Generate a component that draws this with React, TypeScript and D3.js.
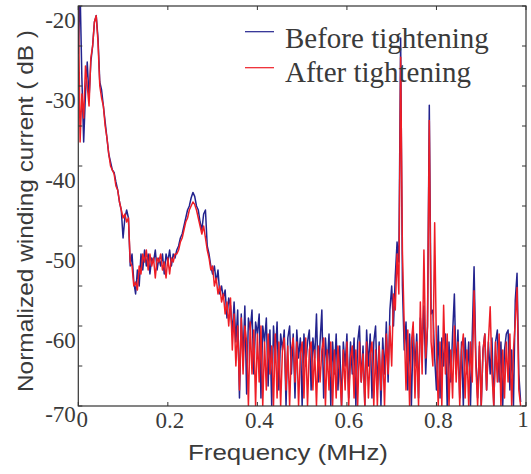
import React from "react";
import * as d3 from "d3";

// Sample spacing of the spectrum (MHz)
const FREQ_STEP = 0.004;

// Normalized winding current (dB), before tightening
const beforeValues: number[] = [
  -26, -18, -29, -37, -31, -27, -31.5, -27, -25, -22,
  -21.2, -24, -29.5, -30.5, -32.5, -34.5, -36.5, -38.5, -39.5, -40.5,
  -40.8, -42, -43, -44.5, -45.5, -49, -46.5, -45.5, -46.5, -52.5,
  -51, -54.5, -56, -53, -55, -51, -53, -50.5, -52.5, -51,
  -53.5, -51.5, -52, -50.5, -53, -51.5, -52.5, -51, -53.5, -51,
  -52, -50.5, -52.5, -51, -51.5, -50.5, -50, -49, -48.5, -47.5,
  -46.5, -45.5, -45, -44, -43.3, -43.8, -45, -45.5, -47, -48,
  -46, -45.5, -50, -51, -52.5, -53.5, -52.5, -54.5, -53, -56,
  -55, -56.5, -55.5, -59, -56.5, -57.5, -61, -57, -62, -58,
  -69, -58.5, -64, -57.5, -68.5, -59, -60.5, -58, -66, -59.5,
  -61, -58.5, -69, -60, -62, -59, -67.5, -60.5, -70, -60,
  -64, -59.5, -68, -61, -63, -60.5, -70, -61.5, -60, -66,
  -61, -69, -60.5, -64, -61.5, -70, -61, -65, -62, -60.5,
  -68, -61.5, -64, -58.5, -67, -62, -58, -69, -61.5, -65,
  -61, -70, -62, -66, -61, -68, -62.5, -70, -62, -65,
  -61, -69, -62, -66, -61.5, -70, -62, -60, -67, -62.5,
  -70, -60.5, -65, -61, -69, -62, -60, -68, -62, -70,
  -61.5, -66, -59.5, -67, -58, -55, -60, -53.8, -49.5, -52,
  -24, -55, -63, -59.5, -68, -61, -70, -60.5, -65, -61,
  -69, -59, -63, -57.5, -66, -60, -32.4, -58.5, -58, -64,
  -68, -60, -69, -61.5, -65, -61, -70, -62, -67, -61,
  -56, -66, -60.5, -69, -62, -70, -61.5, -66, -62, -70,
  -61, -52.6, -64, -69, -62.5, -70, -63, -61, -68, -62,
  -66, -61.5, -70, -62, -60.5, -67, -62, -70, -63, -61,
  -60.5, -68, -63, -70, -56.8, -53.4, -66, -69.5,
];

// Normalized winding current (dB), after tightening
const afterValues: number[] = [
  -19, -37, -31, -34, -27.5, -30, -32.5, -26.5, -25, -22,
  -21.2, -24.5, -30, -31.5, -32.5, -35, -36.5, -38.5, -40, -40.5,
  -41, -42.5, -43, -44.5, -45.5, -46.5, -46, -47, -46.5, -52,
  -52.5, -55, -54.5, -55.5, -52.5, -53.5, -51, -52, -50.5, -53,
  -51, -52.5, -51.5, -54, -51.5, -52, -51, -53, -52, -54,
  -51.5, -53.5, -51.5, -52, -51, -51, -50.5, -49.5, -49, -48,
  -47, -46.5, -45.5, -45, -44.5, -44.8, -45.5, -46.5, -47.5, -48.5,
  -47.5, -49, -50.5, -51.5, -53, -52.5, -55, -54, -56, -55,
  -57, -56, -58.5, -57, -60, -56.5, -63, -58.5, -65, -60,
  -68, -59, -66, -60, -62, -70, -59.5, -66, -60.5, -70,
  -61, -67, -60, -70, -62, -68, -61, -66, -62.5, -70,
  -61, -69, -62, -70, -63, -61.5, -68, -62.5, -70, -63,
  -61.5, -67, -62, -70, -63.5, -62, -69, -61.5, -70, -63,
  -62, -68, -63, -70, -62.5, -67, -63, -61.5, -70, -63,
  -68, -62, -70, -63, -69, -62.5, -66, -70, -63, -68,
  -62, -70, -64, -62.5, -69, -63, -70, -62, -67, -63.5,
  -70, -62, -69, -63.5, -62, -70, -63, -70, -62.5, -68,
  -63, -70, -61, -66, -60, -65, -56, -58, -51, -56,
  -26.4, -50.7, -60, -68, -60.5, -70, -62, -59.5, -69, -62,
  -70, -57, -66, -50.5, -64, -60, -34.3, -62, -65, -47.1,
  -63, -70, -62, -70, -57.4, -66, -61, -70, -63, -69,
  -60, -67, -62, -70, -63, -61, -69, -63, -70, -62,
  -67, -55.6, -65, -70, -62, -70, -63, -61, -68, -62,
  -57.6, -66, -70, -62, -67, -61, -70, -63, -69, -62,
  -67, -61, -70, -63, -59.5, -55.2, -68, -70,
];

const xTicks = [0, 0.2, 0.4, 0.6, 0.8, 1];
const xTickLabels = ["0", "0.2", "0.4", "0.6", "0.8", "1"];
const yTicks = [-20, -25, -30, -35, -40, -45, -50, -55, -60, -65, -70];
const yTickLabels = [-20, -30, -40, -50, -60, -70];

const legendLabels = ["Before tightening", "After tightening"];
const seriesColors = ["#23238e", "#ee1d26"];

const W = 531;
const H = 474;
const M = { left: 78.3, right: 526, top: 6, bottom: 406 };
const TEXT = "#3a3a3a";
const AXIS = "#333333";

export default function App() {
  const x = d3.scaleLinear().domain([0, 1]).range([M.left, M.right]);
  const y = d3.scaleLinear().domain([-70, -20]).range([M.bottom, M.top]);

  const line = d3
    .line<number>()
    .x((_, i) => x(i * FREQ_STEP))
    .y((d) => y(d));

  const series = [beforeValues, afterValues];

  return (
    <svg
      width={W}
      height={H}
      style={{ position: "absolute", left: 0, top: 0, background: "#fff" }}
    >
      <defs>
        <clipPath id="plotClip">
          <rect
            x={M.left}
            y={M.top}
            width={M.right - M.left}
            height={M.bottom - M.top}
          />
        </clipPath>
      </defs>

      <g clipPath="url(#plotClip)">
        {series.map((vals, k) => (
          <path
            key={k}
            d={line(vals) || ""}
            fill="none"
            stroke={seriesColors[k]}
            strokeWidth={1.5}
            strokeLinejoin="round"
          />
        ))}
      </g>

      {/* frame */}
      <rect
        x={M.left}
        y={M.top}
        width={M.right - M.left}
        height={M.bottom - M.top}
        fill="none"
        stroke={AXIS}
        strokeWidth={1.2}
      />

      {/* y ticks (inward, both sides) */}
      {yTicks.map((t) => (
        <g key={"yt" + t}>
          <line x1={M.left} x2={M.left + 4} y1={y(t)} y2={y(t)} stroke={AXIS} strokeWidth={1} />
          <line x1={M.right} x2={M.right - 4} y1={y(t)} y2={y(t)} stroke={AXIS} strokeWidth={1} />
        </g>
      ))}
      {/* x ticks (inward, top and bottom) */}
      {xTicks.map((t) => (
        <g key={"xt" + t}>
          <line x1={x(t)} x2={x(t)} y1={M.bottom} y2={M.bottom - 4} stroke={AXIS} strokeWidth={1} />
          <line x1={x(t)} x2={x(t)} y1={M.top} y2={M.top + 4} stroke={AXIS} strokeWidth={1} />
        </g>
      ))}

      {/* y tick labels */}
      {yTickLabels.map((t) => (
        <text
          key={"yl" + t}
          x={M.left - 2.5}
          y={Math.min(y(t) + 22, 422)}
          textAnchor="end"
          fontFamily="'Liberation Serif', 'Times New Roman', serif"
          fontSize={23}
          fill={TEXT}
        >
          {t}
        </text>
      ))}

      {/* x tick labels */}
      {xTicks.map((t, i) => (
        <text
          key={"xl" + t}
          x={i === 0 ? x(t) + 4 : i === xTicks.length - 1 ? x(t) - 3 : x(t) + 2}
          y={i === 0 || i === xTicks.length - 1 ? 427 : 428}
          textAnchor="middle"
          fontFamily="'Liberation Serif', 'Times New Roman', serif"
          fontSize={23}
          fill={TEXT}
        >
          {xTickLabels[i]}
        </text>
      ))}

      {/* axis titles */}
      <text
        x={288}
        y={460}
        textAnchor="middle"
        fontFamily="'Liberation Sans', Arial, sans-serif"
        fontSize={22}
        textLength={200}
        lengthAdjust="spacingAndGlyphs"
        fill={TEXT}
      >
        Frequency (MHz)
      </text>
      <text
        transform="translate(33,211) rotate(-90)"
        textAnchor="middle"
        fontFamily="'Liberation Sans', Arial, sans-serif"
        fontSize={22}
        textLength={362}
        lengthAdjust="spacingAndGlyphs"
        fill={TEXT}
      >
        Normalized winding current ( dB )
      </text>

      {/* legend */}
      {legendLabels.map((lab, k) => (
        <g key={lab}>
          <line
            x1={245}
            x2={274}
            y1={31.7 + k * 36}
            y2={31.7 + k * 36}
            stroke={seriesColors[k]}
            strokeWidth={1.2}
          />
          <text
            x={285}
            y={47.5 + k * 34}
            fontFamily="'Liberation Serif', 'Times New Roman', serif"
            fontSize={29}
            fill={TEXT}
          >
            {lab}
          </text>
        </g>
      ))}
    </svg>
  );
}
